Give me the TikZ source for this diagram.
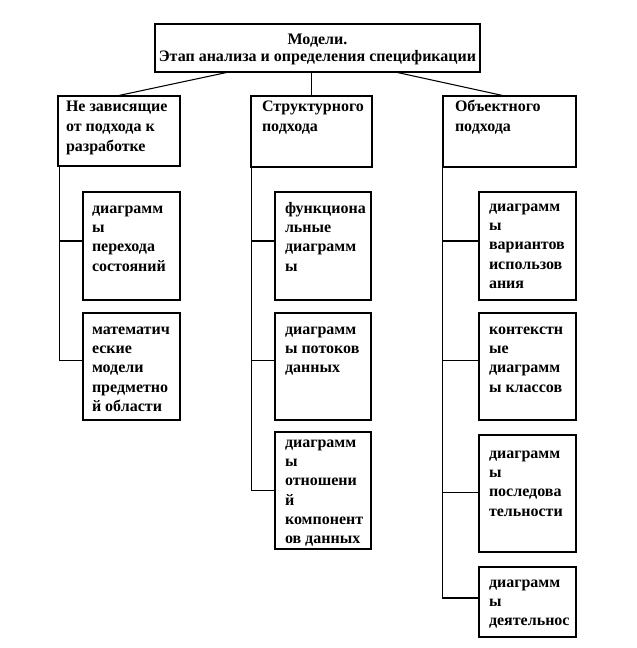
\documentclass[tikz,border=0pt]{standalone}
\usepackage{fontspec}
\setmainfont{Liberation Serif}
\usetikzlibrary{calc,fit}
\newcommand\firststrut{\rule{0pt}{10.5pt}}
\begin{document}
\begin{tikzpicture}[x=0.75pt,y=-0.75pt,line width=0.8pt,
  box/.style={draw,rectangle,inner sep=0pt},
  txt/.style={anchor=north west,inner sep=0pt,align=left,
    font=\fontsize{12}{14.5}\selectfont\bfseries},
  toptxt/.style={anchor=north west,inner sep=0pt,align=left,
    font=\fontsize{12}{15}\selectfont\bfseries},
  titletxt/.style={inner sep=0pt,align=center,
    font=\fontsize{12}{12.75}\selectfont\bfseries}]
\useasboundingbox (0,0) rectangle (636,648);

% title
\node[box,fit={(155,24) (480,72)}] (T) {};
\node[titletxt] (Tt) at ($(T.center)+(0,1)$) {Модели.\\Этап анализа и определения спецификации};

% level 1
\node[box,fit={(58,96) (180,166)}] (A) {};
\node[box,fit={(251,96) (372,167)}] (B) {};
\node[box,fit={(443,96) (576,167)}] (C) {};
\node[toptxt] (At) at ($(A.north west)+(8,2)$) {\firststrut Не зависящие\\от подхода к\\разработке};
\node[toptxt] (Bt) at ($(B.north west)+(11,2)$) {\firststrut Структурного\\подхода};
\node[toptxt] (Ct) at ($(C.north west)+(12,2)$) {\firststrut Объектного\\подхода};

% level 2 boxes
\node[box,fit={(83,192) (180,300)}] (A1) {};
\node[box,fit={(83,313) (180,420)}] (A2) {};
\node[box,fit={(275,192) (371,300)}] (B1) {};
\node[box,fit={(275,313) (371,420)}] (B2) {};
\node[box,fit={(275,432) (371,549)}] (B3) {};
\node[box,fit={(479,192) (576,300)}] (C1) {};
\node[box,fit={(479,313) (576,420)}] (C2) {};
\node[box,fit={(479,435) (576,552)}] (C3) {};
\node[box,fit={(479,567) (576,637)}] (C4) {};

\node[txt] (A1t) at ($(A1.north west)+(9,7)$) {\firststrut диаграмм\\ы\\перехода\\состояний};
\node[txt] (A2t) at ($(A2.north west)+(9,7)$) {\firststrut математич\\еские\\модели\\предметно\\й области};
\node[txt] (B1t) at ($(B1.north west)+(10,7)$) {\firststrut функциона\\льные\\диаграмм\\ы};
\node[txt] (B2t) at ($(B2.north west)+(10,7)$) {\firststrut диаграмм\\ы потоков\\данных};
\node[txt] (B3t) at ($(B3.north west)+(10,1)$) {\firststrut диаграмм\\ы\\отношени\\й\\компонент\\ов данных};
\node[txt] (C1t) at ($(C1.north west)+(10,5)$) {\firststrut диаграмм\\ы\\вариантов\\использов\\ания};
\node[txt] (C2t) at ($(C2.north west)+(10,7)$) {\firststrut контекстн\\ые\\диаграмм\\ы классов};
\node[txt] (C3t) at ($(C3.north west)+(10,9)$) {\firststrut диаграмм\\ы\\последова\\тельности};
\node[txt] (C4t) at ($(C4.north west)+(10,6)$) {\firststrut диаграмм\\ы\\деятельнос};

% top connectors
\coordinate (Tl) at ($(T.south west)+(72,0)$);
\coordinate (Tr) at ($(T.south east)+(-83,0)$);
\draw (Tl) -- (A.north);
\draw (T.south -| B.north) -- (B.north);
\draw (Tr) -- ($(C.north)+(-7,0)$);

% vertical spines
\coordinate (Av) at ($(A.south west)+(2,0)$);
\coordinate (Bv) at ($(B.south west)+(1,0)$);
\coordinate (Cv) at ($(C.south west)+(0,0)$);

\coordinate (A1c) at ($(A1.west)+(0,-5)$);
\coordinate (A2c) at ($(A2.west)+(0,-6)$);
\coordinate (B1c) at ($(B1.west)+(0,-5)$);
\coordinate (B2c) at ($(B2.west)+(0,-6)$);
\coordinate (B3c) at ($(B3.west)+(0,0)$);
\coordinate (C1c) at ($(C1.west)+(0,-5)$);
\coordinate (C2c) at ($(C2.west)+(0,-6)$);
\coordinate (C3c) at ($(C3.west)+(0,-1)$);
\coordinate (C4c) at ($(C4.west)+(0,-4)$);

\draw (Av) |- (A2c);
\draw (Av |- A1c) -- (A1c);
\draw (Bv) |- (B3c);
\draw (Bv |- B1c) -- (B1c);
\draw (Bv |- B2c) -- (B2c);
\draw (Cv) |- (C4c);
\draw (Cv |- C1c) -- (C1c);
\draw (Cv |- C2c) -- (C2c);
\draw (Cv |- C3c) -- (C3c);
\end{tikzpicture}
\end{document}
